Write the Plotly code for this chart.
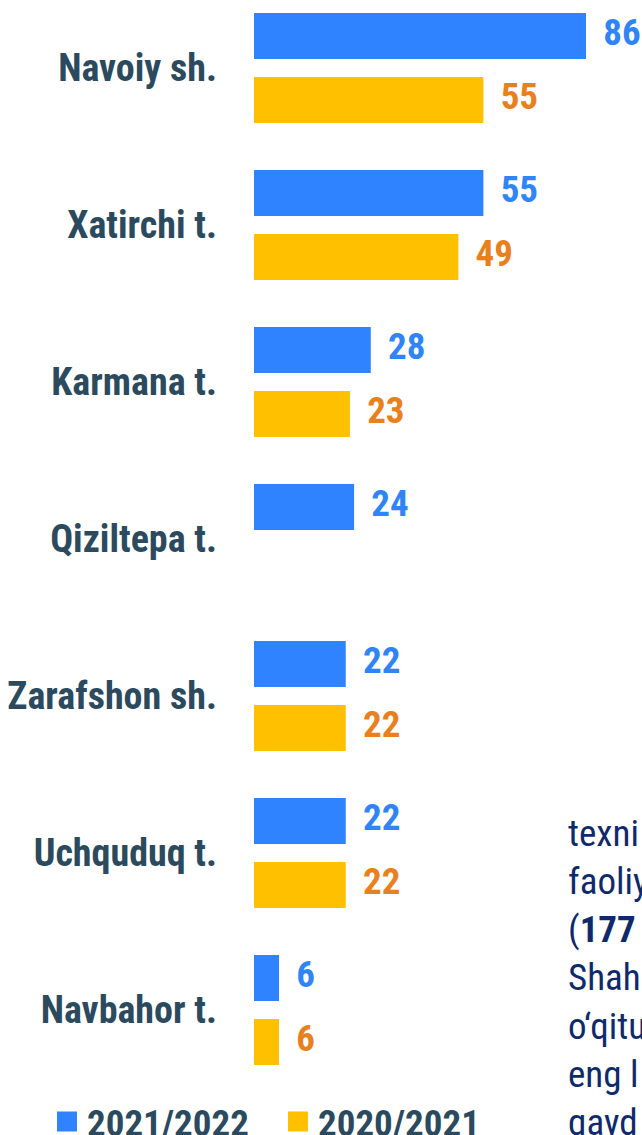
import plotly.graph_objects as go

# ---------------- data ----------------
categories = ["Navoiy sh.", "Xatirchi t.", "Karmana t.", "Qiziltepa t.",
              "Zarafshon sh.", "Uchquduq t.", "Navbahor t."]
values_2021_2022 = [86, 55, 28, 24, 22, 22, 6]
values_2020_2021 = [55, 49, 23, None, 22, 22, 6]
series_names = ["2021/2022", "2020/2021"]
body_lines = ["texni", "faoliy", "(<b>177</b>", "Shah", "o‘qitu", "eng l", "qayd"]

# ---------------- style ----------------
W, H = 642, 1135
BLUE = "#2F83FF"
YELLOW = "#FFC000"
BLUE_TXT = "#2F84F8"
ORANGE_TXT = "#E8801E"
LABEL_CLR = "#2B4A5E"
BODY_CLR = "#0F2A6B"
FONT = "Roboto Condensed, Liberation Sans Narrow, DejaVu Sans Condensed, Roboto, sans-serif"

XMAX = 79.6            # axis end; the longest bar is cut at the plot edge as in the source
X0_PX, X1_PX = 254, 586
CAT_PITCH = 157.0
FIRST_CAT_PX = 67.9

y_top = -FIRST_CAT_PX / CAT_PITCH
y_bot = (H - FIRST_CAT_PX) / CAT_PITCH

fig = go.Figure()

series = [(values_2021_2022, BLUE, BLUE_TXT, series_names[0]),
          (values_2020_2021, YELLOW, ORANGE_TXT, series_names[1])]

for vals, col, tcol, name in series:
    fig.add_trace(go.Bar(
        y=categories, x=vals, orientation="h", name=name,
        marker=dict(color=col, line=dict(width=0)),
        showlegend=False, hoverinfo="skip", offsetgroup=name,
    ))

# value labels (placed at bar end, limited to the visible axis end)
for vals, col, tcol, name in series:
    lx = [None if v is None else min(v, XMAX) for v in vals]
    fig.add_trace(go.Scatter(
        y=categories, x=lx, mode="markers+text", offsetgroup=name, orientation="h",
        text=[None if v is None else str(v) for v in vals],
        textposition="middle right",
        textfont=dict(family=FONT, size=37, color=tcol, weight=700),
        marker=dict(size=26, color="rgba(0,0,0,0)"),
        showlegend=False, hoverinfo="skip", cliponaxis=False,
    ))

# legend entries
for vals, col, tcol, name in series:
    fig.add_trace(go.Scatter(
        x=[None], y=[None], mode="markers", name=name,
        marker=dict(symbol="square", size=16, color=col, line=dict(color=col, width=4)),
        showlegend=True,
    ))

for i, t in enumerate(body_lines):
    ypx = 833 + 48.3 * i
    fig.add_annotation(
        xref="paper", yref="paper", x=566 / W, y=1 - ypx / H,
        xanchor="left", yanchor="middle", showarrow=False,
        text=t, font=dict(family=FONT, size=37, color=BODY_CLR),
    )

fig.update_layout(
    width=W, height=H,
    margin=dict(l=0, r=0, t=0, b=0, autoexpand=False),
    paper_bgcolor="white", plot_bgcolor="white",
    barmode="group", bargap=0.185, bargroupgap=0.281,
    scattermode="group", scattergap=0.185,
    xaxis=dict(range=[0, XMAX], domain=[X0_PX / W, X1_PX / W], visible=False,
               showgrid=False, zeroline=False),
    yaxis=dict(type="category", categoryorder="array", categoryarray=categories,
               range=[y_bot, y_top], domain=[0, 1], showgrid=False, zeroline=False,
               showline=False, ticks="", ticklabelstandoff=36, automargin=False,
               tickfont=dict(family=FONT, size=38, color=LABEL_CLR, weight=700)),
    legend=dict(orientation="h", x=47 / W, xanchor="left", y=1 - 1091 / H, yanchor="top",
                font=dict(family=FONT, size=37, color=LABEL_CLR, weight=700),
                bgcolor="rgba(0,0,0,0)", itemwidth=30, entrywidth=186,
                tracegroupgap=0),
    showlegend=True,
)

fig.write_html("out.html", config={"displayModeBar": False},
               post_script="document.body.style.margin='0';")
